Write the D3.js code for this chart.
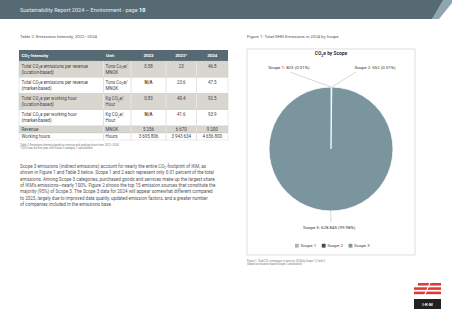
<!DOCTYPE html>
<html>
<head>
<meta charset="utf-8">
<script src="https://cdn.jsdelivr.net/npm/d3@7"></script>
<style>
    body { margin: 0; background: #fff; }
    svg { display: block; font-family: Roboto, "Liberation Sans", sans-serif; }
</style>
</head>
<body>
<svg id="page" width="452" height="320"></svg>
<script>
// pie data
var scopes = ["Scope 1", "Scope 2", "Scope 3"];
var emissions = [823, 552, 628845];
var shares = ["0.01%", "0.01%", "99.98%"];
var scopeColors = ["#b3b3b3", "#3d4c54", "#7b959e"];

// table data
var tableColumns = ["CO_2-Intensity", "Unit", "2022", "2023*", "2024"];
var rowLabels = [
    ["Total CO_2e emissions per revenue", "(location-based)"],
    ["Total CO_2e emissions per revenue", "(market-based)"],
    ["Total CO_2e per working hour", "(location-based)"],
    ["Total CO_2e per working hour", "(market-based)"],
    ["Revenue"],
    ["Working hours"]
];
var rowUnits = [
    ["Tons Co_2e/", "MNOK"],
    ["Tons Co_2e/", "MNOK"],
    ["Kg CO_2e/", "Hour"],
    ["Kg CO_2e/", "Hour"],
    ["MNOK"],
    ["Hours"]
];
var values2022 = [0.58, null, 0.83, null, 5256, 3695806];
var values2023 = [23, 23.6, 40.4, 41.6, 6670, 3943634];
var values2024 = [46.8, 47.5, 92.5, 93.9, 9200, 4656800];

var paragraph = [
    "Scope 3 emissions (indirect emissions) account for nearly the entire CO_2-footprint of IKM, as",
    "shown in Figure 1 and Table 3 below. Scope 1 and 2 each represent only 0.01 percent of the total",
    "emissions. Among Scope 3 categories, purchased goods and services make up the largest share",
    "of IKM\u2019s emissions\u2014nearly 100%. Figure 2 shows the top 15 emission sources that constitute the",
    "majority (95%) of Scope 3. The Scope 3 data for 2024 will appear somewhat different compared",
    "to 2023, largely due to improved data quality, updated emission factors, and a greater number",
    "of companies included in the emissions base."
];

var nf = d3.formatLocale({ decimal: ".", thousands: "\u00a0", grouping: [3], currency: ["", ""] }).format(",");
function fmt(v) {
    if (v === null) return "N/A";
    return v >= 1000 ? nf(v) : String(v);
}

// writes text where "_2" becomes a subscript 2
function richText(sel, str, size) {
    var parts = str.split("_2");
    parts.forEach(function (p, i) {
        if (i > 0) {
            sel.append("tspan").attr("dy", size * 0.3).style("font-size", (size * 0.7) + "px").text("2");
            sel.append("tspan").attr("dy", -size * 0.3).text(p);
        } else {
            sel.append("tspan").text(p);
        }
    });
    return sel;
}

var svg = d3.select("#page");
var slate = "#566a73";

// header band
svg.append("path").attr("d", "M441,0L452,0L452,3L439,19L432,19Z").attr("fill", "#8fa6ae");
svg.append("path").attr("d", "M0,0L443,0L432,19L0,19Z").attr("fill", slate);
var ht = svg.append("text").attr("x", 20).attr("y", 11.6)
    .style("font-size", "5.5px").style("fill", "#e6ecee");
ht.append("tspan").text("Sustainability Report 2024 \u2013 Environment - page ");
ht.append("tspan").style("font-weight", "bold").style("fill", "#fff").text("10");

// captions
svg.append("text").attr("x", 20).attr("y", 37.6).style("font-size", "4.3px").style("fill", "#555")
    .text("Table 2: Emissions Intensity, 2022\u20132024");
svg.append("text").attr("x", 247).attr("y", 38.2).style("font-size", "4.3px").style("fill", "#555")
    .text("Figure 1: Total GHG Emissions in 2024 by Scope");

// table
var colEdges = [19, 103.5, 131, 166, 196.5, 228];
var rowHeights = [16.25, 16.25, 16.25, 16.25, 7, 7];
var headerTop = 50, headerH = 11;
var fs = 4.45;
var table = svg.append("g");

table.append("rect").attr("x", colEdges[0]).attr("y", headerTop)
    .attr("width", colEdges[5] - colEdges[0]).attr("height", headerH).attr("fill", slate);
tableColumns.forEach(function (c, i) {
    var t = table.append("text")
        .attr("x", i < 2 ? colEdges[i] + 2.5 : (colEdges[i] + colEdges[i + 1]) / 2)
        .attr("y", headerTop + headerH / 2 + 1.5)
        .attr("text-anchor", i < 2 ? "start" : "middle")
        .style("font-size", "4.4px").style("font-weight", "bold").style("fill", "#fff");
    richText(t, c, 4.4);
});

var y = headerTop + headerH;
rowLabels.forEach(function (lab, r) {
    var h = rowHeights[r];
    var shaded = r % 2 === 0;
    table.append("rect").attr("x", colEdges[0]).attr("y", y)
        .attr("width", colEdges[5] - colEdges[0]).attr("height", h)
        .attr("fill", shaded ? "#d9d6d0" : "#fff")
        .attr("stroke", "#b9b9b9").attr("stroke-width", 0.3);
    colEdges.slice(1, 5).forEach(function (cx) {
        table.append("line").attr("x1", cx).attr("x2", cx).attr("y1", y).attr("y2", y + h)
            .attr("stroke", shaded ? "#fff" : "#b9b9b9").attr("stroke-width", 0.4);
    });
    var lineGap = 5.8;
    var firstBase = y + h / 2 + 1.5 - (lab.length - 1) * lineGap / 2;
    lab.forEach(function (s, k) {
        richText(table.append("text").attr("x", colEdges[0] + 2.5).attr("y", firstBase + k * lineGap)
            .style("font-size", fs + "px").style("fill", "#444"), s, fs);
    });
    rowUnits[r].forEach(function (s, k) {
        richText(table.append("text").attr("x", colEdges[1] + 2).attr("y", firstBase + k * lineGap)
            .style("font-size", fs + "px").style("fill", "#444"), s, fs);
    });
    [values2022, values2023, values2024].forEach(function (vals, c) {
        table.append("text")
            .attr("x", (colEdges[c + 2] + colEdges[c + 3]) / 2)
            .attr("y", firstBase)
            .attr("text-anchor", "middle")
            .style("font-size", fs + "px")
            .style("font-weight", vals[r] === null ? "bold" : "normal")
            .style("fill", "#444")
            .text(fmt(vals[r]));
    });
    y += h;
});

svg.append("text").attr("x", 20).attr("y", y + 6.2).style("font-size", "2.7px").style("fill", "#777")
    .text("Table 2: Emissions intensity based on revenue and working hours from 2022\u20132024");
svg.append("text").attr("x", 20).attr("y", y + 9.4).style("font-size", "2.7px").style("fill", "#777")
    .text("*2023 was the first year with Scope 3 category 1 calculations");

// body paragraph
paragraph.forEach(function (line, i) {
    richText(svg.append("text").attr("x", 20).attr("y", 167.6 + i * 6.45)
        .style("font-size", "4.55px").style("fill", "#555"), line, 4.55);
});

// chart box
svg.append("rect").attr("x", 247).attr("y", 49).attr("width", 168).attr("height", 206)
    .attr("fill", "#fff").attr("stroke", "#c8c8c8").attr("stroke-width", 0.6);
richText(svg.append("text").attr("x", 331).attr("y", 55.4).attr("text-anchor", "middle")
    .style("font-size", "4.9px").style("font-weight", "bold").style("fill", "#333"), "CO_2e by Scope", 4.9);

var cx = 331, cy = 149, r = 62;
var pieData = scopes.map(function (s, i) {
    return { label: s, value: emissions[i], share: shares[i], color: scopeColors[i] };
});
var pie = d3.pie().sort(null).value(function (d) { return d.value; });
var arc = d3.arc().innerRadius(0).outerRadius(r);
var arcs = pie(pieData);

var pg = svg.append("g").attr("transform", "translate(" + cx + "," + cy + ")");
pg.selectAll(".slice").data(arcs).enter().append("path")
    .attr("class", "slice")
    .attr("d", arc)
    .attr("fill", function (d) { return d.data.color; })
    .attr("stroke", "#fff")
    .attr("stroke-width", 0.8);

// label placement relative to radius
var labelPos = [[-0.68, -1.31], [0.71, -1.31], [-0.03, 1.27]];
var leaderEnd = [[-0.66, -1.24], [0.4, -1.24], [0, 1.18]];
arcs.forEach(function (d, i) {
    var a = (d.startAngle + d.endAngle) / 2;
    var px = r * Math.sin(a), py = -r * Math.cos(a);
    pg.append("line")
        .attr("x1", px).attr("y1", py)
        .attr("x2", leaderEnd[i][0] * r).attr("y2", leaderEnd[i][1] * r)
        .attr("stroke", "#9a9a9a").attr("stroke-width", 0.4);
    pg.append("text")
        .attr("x", labelPos[i][0] * r).attr("y", labelPos[i][1] * r + 1.5)
        .attr("text-anchor", "middle")
        .style("font-size", "4.4px").style("fill", "#333")
        .text(d.data.label + ": " + nf(d.data.value) + " (" + d.data.share + ")");
});

// legend
var lx = d3.scalePoint().domain(scopes).range([295, 348.6]);
var lg = svg.append("g").selectAll("g").data(pieData).enter().append("g")
    .attr("transform", function (d) { return "translate(" + lx(d.label) + ",245.7)"; });
lg.append("rect").attr("x", 0).attr("y", -1.9).attr("width", 3.8).attr("height", 3.8)
    .attr("fill", function (d) { return d.color; });
lg.append("text").attr("x", 5.4).attr("y", 1.5).style("font-size", "4.4px").style("fill", "#444")
    .text(function (d) { return d.label; });

// figure note
richText(svg.append("text").attr("x", 247).attr("y", 261.5).style("font-size", "2.7px").style("fill", "#777"),
    "Figure 1: Total CO_2-emissions in tons for 2024 by Scope 1,2 and 3", 2.7);
svg.append("text").attr("x", 247).attr("y", 265).style("font-size", "2.7px").style("fill", "#777")
    .text("(based on location-based Scope 2 calculation)");

// logo
var logo = svg.append("g");
[283, 287.3, 291.6].forEach(function (sy, i) {
    logo.append("path")
        .attr("d", "M" + (414 + (i === 0 ? 4 : 0)) + "," + sy + "h" + (i === 0 ? 23 : 27) + "v2.6h-" + (i === 0 ? 23 : 27) + "Z")
        .attr("fill", "#e03a35");
});
logo.append("path").attr("d", "M424,295L430,281.5L431.2,281.5L425.2,295Z").attr("fill", "#fff");
logo.append("rect").attr("x", 414).attr("y", 299).attr("width", 27).attr("height", 10).attr("fill", "#222");
logo.append("text").attr("x", 427.5).attr("y", 305.5).attr("text-anchor", "middle")
    .style("font-size", "4.2px").style("font-weight", "bold").style("fill", "#fff").text("I-K-M");
</script>
</body>
</html>
